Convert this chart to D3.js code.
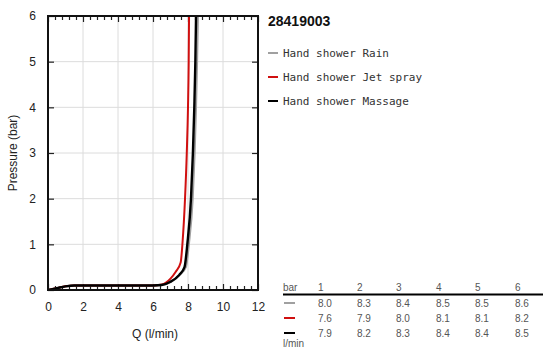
<!DOCTYPE html>
<html><head><meta charset="utf-8">
<script src="https://cdn.jsdelivr.net/npm/d3@7"></script>
<style>body{margin:0;background:#fff}svg{display:block}</style>
</head><body>
<svg id="c" width="555" height="360"></svg>
<script>
const title = "28419003";
const seriesNames = ["Hand shower Rain", "Hand shower Jet spray", "Hand shower Massage"];
const seriesColors = ["#a0a0a0", "#d01010", "#000000"];
const rainQ = [0, 0.5, 1, 1.5, 2, 4, 6, 6.5, 7, 7.5, 7.88, 8.05, 8.27, 8.38, 8.46, 8.52, 8.57];
const rainP = [0, 0.04, 0.08, 0.1, 0.1, 0.1, 0.1, 0.11, 0.17, 0.32, 0.5, 1, 2, 3, 4, 5, 6];
const jetQ = [0, 0.5, 1, 1.5, 2, 4, 6, 6.5, 7, 7.3, 7.58, 7.68, 7.83, 7.93, 8.0, 8.04, 8.06];
const jetP = [0, 0.04, 0.08, 0.1, 0.1, 0.1, 0.1, 0.12, 0.25, 0.4, 0.6, 1, 2, 3, 4, 5, 6];
const massQ = [0, 0.5, 1, 1.5, 2, 4, 6, 6.5, 7, 7.5, 7.8, 7.96, 8.17, 8.28, 8.36, 8.42, 8.46];
const massP = [0, 0.04, 0.08, 0.1, 0.1, 0.1, 0.1, 0.11, 0.18, 0.33, 0.5, 1, 2, 3, 4, 5, 6];
const tableBars = ["1", "2", "3", "4", "5", "6"];
const tableRain = ["8.0", "8.3", "8.4", "8.5", "8.5", "8.6"];
const tableJet = ["7.6", "7.9", "8.0", "8.1", "8.1", "8.2"];
const tableMass = ["7.9", "8.2", "8.3", "8.4", "8.4", "8.5"];
const xTicks = [0, 2, 4, 6, 8, 10, 12];
const yTicks = [0, 1, 2, 3, 4, 5, 6];

const svg = d3.select("#c");
const x = d3.scaleLinear().domain([0, 12]).range([48, 258]);
const y = d3.scaleLinear().domain([0, 6]).range([290, 16]);
const font = "Liberation Sans, Arial, sans-serif";

// grid
const g = svg.append("g");
g.selectAll(".vg").data(xTicks.slice(1, -1)).join("line")
  .attr("x1", d => x(d)).attr("x2", d => x(d)).attr("y1", y(0)).attr("y2", y(6))
  .attr("stroke", "#dcdcdc").attr("stroke-width", 1);
g.selectAll(".hg").data(yTicks.slice(1, -1)).join("line")
  .attr("y1", d => y(d)).attr("y2", d => y(d)).attr("x1", x(0)).attr("x2", x(12))
  .attr("stroke", "#dcdcdc").attr("stroke-width", 1);

// axes with inward ticks
const minor = d3.range(0, 12.001, 0.4).filter(v => Math.abs(v / 2 - Math.round(v / 2)) > 1e-6);
const fmt = d3.format("d");
const axB = svg.append("g").attr("transform", `translate(0,${y(0)})`)
  .call(d3.axisBottom(x).tickValues(xTicks).tickSize(-6).tickPadding(12).tickFormat(fmt));
const axT = svg.append("g").attr("transform", `translate(0,${y(6)})`)
  .call(d3.axisTop(x).tickValues(xTicks).tickSize(-6).tickFormat(""));
const axBm = svg.append("g").attr("transform", `translate(0,${y(0)})`)
  .call(d3.axisBottom(x).tickValues(minor).tickSize(-4).tickFormat(""));
const axTm = svg.append("g").attr("transform", `translate(0,${y(6)})`)
  .call(d3.axisTop(x).tickValues(minor).tickSize(-4).tickFormat(""));
const axL = svg.append("g").attr("transform", `translate(${x(0)},0)`)
  .call(d3.axisLeft(y).tickValues(yTicks).tickSize(-6).tickPadding(12).tickFormat(fmt));
const axR = svg.append("g").attr("transform", `translate(${x(12)},0)`)
  .call(d3.axisRight(y).tickValues(yTicks).tickSize(-6).tickFormat(""));
[axB, axT, axBm, axTm, axL, axR].forEach(a => {
  a.select(".domain").remove();
  a.selectAll("line").attr("stroke", "#222").attr("stroke-width", 1.2);
  a.selectAll("text").attr("font-family", font).attr("font-size", 12).attr("fill", "#222");
});

// lines
const line = d3.line().x(d => x(d[0])).y(d => y(d[1])).curve(d3.curveMonotoneX);
const series = [
  { q: rainQ, p: rainP, w: 2 },
  { q: jetQ, p: jetP, w: 2 },
  { q: massQ, p: massP, w: 2.4 }
];
svg.append("clipPath").attr("id", "cp").append("rect")
  .attr("x", x(0)).attr("y", y(6)).attr("width", x(12) - x(0)).attr("height", y(0) - y(6));
series.forEach((s, i) => {
  svg.append("path").datum(s.q.map((q, j) => [q, s.p[j]]))
    .attr("d", line).attr("fill", "none").attr("stroke", seriesColors[i])
    .attr("stroke-width", s.w).attr("clip-path", "url(#cp)");
});

// frame
svg.append("rect").attr("x", x(0)).attr("y", y(6)).attr("width", x(12) - x(0))
  .attr("height", y(0) - y(6)).attr("fill", "none").attr("stroke", "#111").attr("stroke-width", 2);

// axis titles
svg.append("text").attr("x", (x(0) + x(12)) / 2 + 2).attr("y", 338).attr("text-anchor", "middle")
  .attr("font-family", font).attr("font-size", 12).attr("fill", "#222").text("Q (l/min)");
svg.append("text").attr("transform", `translate(17,${(y(0) + y(6)) / 2}) rotate(-90)`)
  .attr("text-anchor", "middle").attr("font-family", font).attr("font-size", 12).attr("fill", "#222")
  .text("Pressure (bar)");

// title & legend
svg.append("text").attr("x", 268).attr("y", 26).attr("font-family", font).attr("font-size", 14)
  .attr("font-weight", "bold").attr("fill", "#111").text(title);
const legY = [53, 77, 101];
seriesNames.forEach((n, i) => {
  svg.append("line").attr("x1", 268).attr("x2", 278).attr("y1", legY[i]).attr("y2", legY[i])
    .attr("stroke", seriesColors[i]).attr("stroke-width", 2);
  svg.append("text").attr("x", 283).attr("y", legY[i] + 4).attr("font-family", "DejaVu Sans Mono, monospace")
    .attr("font-size", 11).attr("fill", "#333").text(n);
});

// table
const colX = [318, 357, 396, 436, 475, 515];
const tf = { "font-family": font, "font-size": 10, "fill": "#555" };
function txt(xx, yy, s) {
  const t = svg.append("text").attr("x", xx).attr("y", yy).text(s);
  Object.entries(tf).forEach(([k, v]) => t.attr(k, v));
  return t;
}
txt(283, 291, "bar");
tableBars.forEach((b, i) => txt(colX[i], 291, b));
svg.append("line").attr("x1", 283).attr("x2", 543).attr("y1", 294.5).attr("y2", 294.5)
  .attr("stroke", "#000").attr("stroke-width", 2);
const rows = [tableRain, tableJet, tableMass];
const rowY = [307, 322, 337];
rows.forEach((r, i) => {
  svg.append("line").attr("x1", 284).attr("x2", 295).attr("y1", rowY[i] - 4).attr("y2", rowY[i] - 4)
    .attr("stroke", seriesColors[i]).attr("stroke-width", 2);
  r.forEach((v, j) => txt(colX[j], rowY[i], v));
});
txt(283, 347, "l/min");
</script>
</body></html>
